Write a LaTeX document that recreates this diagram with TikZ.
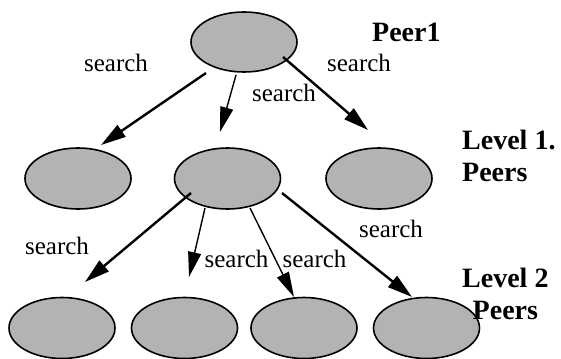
\documentclass[tikz,border=0pt]{standalone}
\usepackage{fontspec}
\setmainfont{Liberation Serif}
\usetikzlibrary{shapes.geometric,arrows.meta,calc}

\definecolor{peergray}{RGB}{179,179,179}
\tikzset{
  peer/.style={ellipse, draw=black, line width=1.6pt, fill=peergray,
    minimum width=106pt, minimum height=61pt, inner sep=0pt},
  thick arrow/.style={line width=2.4pt, -{Triangle[length=25pt,width=14pt]}},
  thin arrow/.style={line width=1.4pt, -{Triangle[length=25pt,width=13pt]}},
  searchlabel/.style={font=\fontsize{25}{25}\selectfont, inner sep=0pt, anchor=base},
  levellabel/.style={font=\fontsize{28}{32}\selectfont\bfseries, inner sep=0pt},
}

\begin{document}
\begin{tikzpicture}[x=1pt,y=-1pt]
  \useasboundingbox (0,0) rectangle (561,358);

  % peers
  \node[peer, minimum height=60pt] (top) at (244,42) {};
  \node[peer] (l1a) at (78,178.5) {};
  \node[peer] (l1b) at (227.5,178.5) {};
  \node[peer] (l1c) at (379,178.5) {};
  \node[peer] (l2a) at (62,328) {};
  \node[peer] (l2b) at (184.5,328) {};
  \node[peer] (l2c) at (304,328) {};
  \node[peer] (l2d) at (426.5,328) {};

  % search requests from the first peer
  \draw[thick arrow] ($(top)+(-38,31)$) -- ($(l1a)+(23,-33.5)$);
  \draw[thin arrow]  ($(top)+(-8,33)$) -- ($(l1b)+(-7.5,-46.5)$);
  \draw[thick arrow] ($(top)+(39,15)$) -- ($(l1c)+(-11,-48.5)$);

  % forwarded search requests
  \draw[thick arrow] ($(l1b)+(-36.5,14.5)$) -- ($(l2a)+(23,-46)$);
  \draw[thin arrow]  ($(l1b)+(-22.5,29.5)$) -- ($(l2b)+(4.5,-51)$);
  \draw[thin arrow]  ($(l1b)+(22.5,29.5)$) -- ($(l2c)+(-10,-31)$);
  \draw[thick arrow] ($(l1b)+(54.5,14.5)$) -- ($(l2d)+(-14.5,-31)$);

  % edge labels
  \node[searchlabel] (s1) at (116,72) {search};
  \node[searchlabel] (s2) at (284,102) {search};
  \node[searchlabel] (s3) at (359,72) {search};
  \node[searchlabel] (s4) at (57,254) {search};
  \node[searchlabel] (s5) at (236.5,267) {search};
  \node[searchlabel] (s6) at (314.5,267) {search};
  \node[searchlabel] (s7) at (391,237) {search};

  % level captions
  \node[levellabel, anchor=base west] (cap0) at (372,42) {Peer1};
  \node[levellabel, anchor=north west, align=left] (cap1) at (462,130) {Level 1.\\Peers};
  \node[levellabel, anchor=north west, align=center] (cap2) at (462,267.5) {Level 2\\Peers};
\end{tikzpicture}
\end{document}
